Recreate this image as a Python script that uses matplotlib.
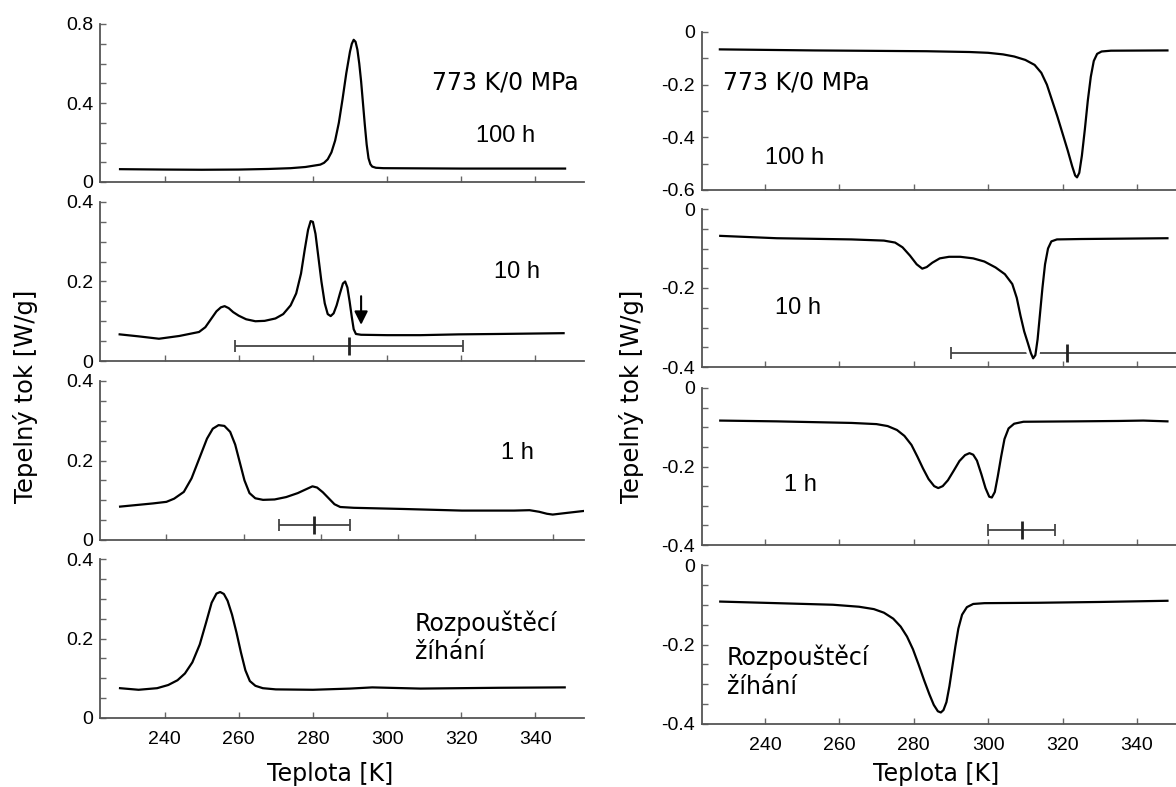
import numpy as np
import matplotlib.pyplot as plt

# ---- left column: heating runs (W/g), temperature in K ----
t_l100 = [228, 240, 250, 260, 268, 274, 278, 280, 282, 283, 284, 285, 286, 287, 288, 289, 290, 290.5, 291, 291.5, 292, 292.5, 293, 293.5, 294, 294.5, 295, 295.5, 296, 297, 299, 320, 348]
q_l100 = [0.065, 0.063, 0.062, 0.063, 0.066, 0.070, 0.076, 0.082, 0.088, 0.097, 0.115, 0.15, 0.21, 0.30, 0.42, 0.55, 0.66, 0.70, 0.72, 0.71, 0.67, 0.60, 0.51, 0.40, 0.29, 0.19, 0.12, 0.09, 0.078, 0.072, 0.07, 0.068, 0.068]

t_l10 = [227.9, 233, 238.5, 244, 249.3, 251, 252.5, 254, 255.2, 256.2, 257.3, 258.5, 260, 262, 264.5, 267, 269.9, 272, 274, 275.5, 276.8, 277.8, 278.7, 279.4, 280, 280.7, 281.5, 282.3, 283.2, 284, 284.8, 285.6, 286.4, 287.3, 288.1, 288.7, 289.3, 289.9, 290.5, 291, 291.6, 293, 300, 309, 319.3, 330, 347.6]
q_l10 = [0.067, 0.062, 0.056, 0.063, 0.073, 0.085, 0.105, 0.125, 0.135, 0.138, 0.133, 0.123, 0.114, 0.105, 0.10, 0.101, 0.107, 0.118, 0.14, 0.17, 0.22, 0.28, 0.33, 0.352, 0.35, 0.32, 0.26, 0.2, 0.145, 0.118, 0.113, 0.12, 0.14, 0.17, 0.195, 0.2, 0.185, 0.15, 0.11, 0.08, 0.068, 0.066, 0.065, 0.065, 0.067, 0.068, 0.07]

t_l1 = [228, 236.5, 240, 242, 244.5, 246.5, 248.5, 250.5, 252, 253.5, 255, 256.5, 257.8, 259, 260.2, 261.5, 263, 265, 268, 271, 274, 276, 277.8, 279, 280.5, 282, 283.5, 285, 288.5, 301.5, 316.5, 330, 334, 336.5, 338.5, 340, 343.5, 348]
q_l1 = [0.084, 0.092, 0.096, 0.104, 0.121, 0.155, 0.205, 0.255, 0.28, 0.289, 0.287, 0.272, 0.24, 0.195, 0.15, 0.118, 0.105, 0.101, 0.102, 0.108, 0.118, 0.127, 0.135, 0.132, 0.12, 0.105, 0.09, 0.083, 0.081, 0.078, 0.074, 0.074, 0.075, 0.071, 0.066, 0.064, 0.068, 0.073]

t_l0 = [228, 233, 238, 241, 243.5, 245.5, 247.5, 249.5, 251.2, 252.7, 254, 255, 256, 257, 258.2, 259.4, 260.6, 261.8, 263, 264.5, 266.5, 270, 280, 290, 296, 309, 330, 347.9]
q_l0 = [0.075, 0.071, 0.075, 0.083, 0.095, 0.112, 0.14, 0.185, 0.24, 0.29, 0.313, 0.317, 0.312, 0.295, 0.26, 0.215, 0.165, 0.12, 0.093, 0.081, 0.075, 0.072, 0.071, 0.074, 0.077, 0.074, 0.076, 0.077]

# ---- right column: cooling runs (W/g) ----
t_r100 = [227.9, 253.3, 283.4, 295, 300, 304, 307, 310, 312.5, 314.3, 315.8, 317.2, 318.6, 320, 321.4, 322.6, 323.4, 323.9, 324.5, 325.2, 326, 326.8, 327.6, 328.4, 329.3, 330.5, 333, 348.2]
q_r100 = [-0.066, -0.070, -0.073, -0.076, -0.079, -0.085, -0.093, -0.106, -0.125, -0.155, -0.2, -0.26, -0.32, -0.385, -0.45, -0.51, -0.545, -0.552, -0.535, -0.47, -0.37, -0.26, -0.17, -0.11, -0.083, -0.074, -0.071, -0.070]

t_r10 = [228, 243.2, 263.3, 272, 275, 277, 279, 280.8, 282.3, 283.5, 285, 287, 289.5, 292.5, 296, 299, 302, 304.5, 306.5, 307.7, 308.7, 309.7, 310.7, 311.5, 312.1, 312.7, 313.3, 313.9, 314.6, 315.3, 316.1, 317, 318.5, 325, 348.2]
q_r10 = [-0.068, -0.074, -0.077, -0.080, -0.085, -0.097, -0.118, -0.14, -0.151, -0.147, -0.136, -0.125, -0.121, -0.121, -0.125, -0.133, -0.148, -0.165, -0.19, -0.225, -0.27, -0.31, -0.34, -0.365, -0.378, -0.37, -0.33, -0.27, -0.2, -0.14, -0.1, -0.082, -0.077, -0.076, -0.074]

t_r1 = [228, 243.2, 263.3, 270, 273, 275.5, 277.5, 279.4, 281, 282.5, 284, 285.5, 286.6, 287.8, 289.2, 290.8, 292.3, 293.8, 295, 296, 297, 298.2, 299.3, 300.3, 301, 301.8, 302.6, 303.5, 304.4, 305.5, 307, 309.5, 323.6, 335, 341.7, 348.2]
q_r1 = [-0.083, -0.085, -0.089, -0.092, -0.097, -0.107, -0.122, -0.145, -0.175, -0.205, -0.232, -0.25, -0.255, -0.25, -0.235, -0.21, -0.186, -0.171, -0.166, -0.17, -0.185, -0.22, -0.255, -0.277, -0.279, -0.265, -0.225, -0.175, -0.13, -0.103, -0.091, -0.086, -0.085, -0.084, -0.083, -0.085]

t_r0 = [228, 243.2, 258.3, 265.3, 269.3, 272, 274.5, 276.5, 278.2, 279.8, 281.3, 282.8, 284.2, 285.4, 286.5, 287.3, 288, 288.8, 289.6, 290.4, 291.2, 292, 293, 294.3, 296, 299, 313.6, 330, 348.2]
q_r0 = [-0.092, -0.096, -0.100, -0.105, -0.111, -0.12, -0.135, -0.155, -0.18, -0.212, -0.25, -0.29, -0.325, -0.352, -0.368, -0.371, -0.365, -0.345, -0.305, -0.255, -0.205, -0.16, -0.125, -0.106, -0.098, -0.096, -0.095, -0.093, -0.090]

# error bars: (centre, half width, y)
err_l10 = (289.7, 30.8, 0.037)
err_l1 = (278.3, 9.2, 0.038)
err_r10 = (321.1, 31.2, -0.364)
err_r1 = (309.0, 9.0, -0.362)

xticks = [240, 260, 280, 300, 320, 340]

W, H = 1176, 787
fig = plt.figure(figsize=(W / 100, H / 100), dpi=100)

def add_ax(x0, x1, ytop, ybot):
    return fig.add_axes([x0 / W, 1 - ybot / H, (x1 - x0) / W, (ybot - ytop) / H])

def style(ax, xlim, ylim, major, minor, labels, bottom):
    ax.set_xlim(*xlim)
    ax.set_ylim(*ylim)
    for s in ['top', 'right']:
        ax.spines[s].set_visible(False)
    for s in ['left', 'bottom']:
        ax.spines[s].set_color('#555555')
        ax.spines[s].set_linewidth(1.3)
    ax.set_xticks(xticks)
    ax.set_yticks(major)
    ax.set_yticks(minor, minor=True)
    ax.set_yticklabels(labels)
    if bottom:
        ax.set_xticklabels([str(v) for v in xticks])
    else:
        ax.set_xticklabels([])
    ax.tick_params(which='both', direction='in', length=4, width=1, color='#666666')
    ax.tick_params(axis='x', pad=9)
    ax.tick_params(axis='y', pad=5)
    for lab in ax.get_xticklabels() + ax.get_yticklabels():
        lab.set_family('Liberation Sans')
        lab.set_fontsize(14)

def errbar(ax, e):
    c, hw, y = e
    ax.errorbar([c], [y], xerr=[hw], fmt='none', ecolor='#444444', elinewidth=1.3, capsize=4, capthick=1.3)
    ax.plot([c], [y], marker='|', ms=13, mew=2, color='#222222')

lw = 1.6
lrows = [(24, 182), (202, 361), (381, 540), (559, 718)]
rrows = [(32, 190), (209, 367), (388, 545), (565, 724)]

m8 = np.round(np.arange(0, 0.81, 0.1), 2)
m4 = np.round(np.arange(0, 0.41, 0.05), 2)
r6 = np.round(np.arange(-0.6, 0.01, 0.1), 2)
r4 = np.round(np.arange(-0.4, 0.01, 0.05), 2)

# left column
a = add_ax(100, 584, *lrows[0])
a.plot(t_l100, q_l100, color='black', lw=lw)
style(a, (222.6, 353.1), (0, 0.8), [0, 0.4, 0.8], m8, ['0', '0.4', '0.8'], False)

a = add_ax(100, 584, *lrows[1])
a.plot(t_l10, q_l10, color='black', lw=lw)
errbar(a, err_l10)
a.annotate('', xy=(293, 0.084), xytext=(293, 0.17),
           arrowprops=dict(arrowstyle='-|>', color='black', lw=1.5, mutation_scale=20))
style(a, (222.6, 353.1), (0, 0.4), [0, 0.2, 0.4], m4, ['0', '0.2', '0.4'], False)

a = add_ax(100, 584, *lrows[2])
a.plot(t_l1, q_l1, color='black', lw=lw)
errbar(a, err_l1)
style(a, (222.8, 348.1), (0, 0.4), [0, 0.2, 0.4], m4, ['0', '0.2', '0.4'], False)

a = add_ax(100, 584, *lrows[3])
a.plot(t_l0, q_l0, color='black', lw=lw)
style(a, (222.6, 353.1), (0, 0.4), [0, 0.2, 0.4], m4, ['0', '0.2', '0.4'], True)

# right column
b = add_ax(702, 1176, *rrows[0])
b.plot(t_r100, q_r100, color='black', lw=lw)
style(b, (223.1, 350.5), (-0.6, 0), [-0.6, -0.4, -0.2, 0], r6, ['-0.6', '-0.4', '-0.2', '0'], False)

b = add_ax(702, 1176, *rrows[1])
errbar(b, err_r10)
b.plot(t_r10, q_r10, color='white', lw=6)
b.plot(t_r10, q_r10, color='black', lw=lw)
style(b, (223.1, 350.5), (-0.4, 0), [-0.4, -0.2, 0], r4, ['-0.4', '-0.2', '0'], False)

b = add_ax(702, 1176, *rrows[2])
b.plot(t_r1, q_r1, color='black', lw=lw)
errbar(b, err_r1)
style(b, (223.1, 350.5), (-0.4, 0), [-0.4, -0.2, 0], r4, ['-0.4', '-0.2', '0'], False)

b = add_ax(702, 1176, *rrows[3])
b.plot(t_r0, q_r0, color='black', lw=lw)
style(b, (223.1, 350.5), (-0.4, 0), [-0.4, -0.2, 0], r4, ['-0.4', '-0.2', '0'], True)

# annotations
def ftext(px, py, s, fam, size, **kw):
    fig.text(px / W, 1 - py / H, s, family=fam, fontsize=size, va='center', **kw)

dv = 'DejaVu Sans'
ls = 'Liberation Sans'
ftext(432, 83, '773 K/0 MPa', dv, 17)
ftext(476, 136, '100 h', ls, 17)
ftext(494, 272, '10 h', ls, 17)
ftext(501, 453, '1 h', ls, 17)
ftext(415, 623, 'Rozpouštěcí', dv, 17)
ftext(415, 652, 'žíhání', dv, 17)

ftext(723, 83, '773 K/0 MPa', dv, 17)
ftext(765, 158, '100 h', ls, 17)
ftext(775, 308, '10 h', ls, 17)
ftext(784, 485, '1 h', ls, 17)
ftext(727, 657, 'Rozpouštěcí', dv, 17)
ftext(727, 687, 'žíhání', dv, 17)

ftext(330, 774, 'Teplota [K]', dv, 17, ha='center')
ftext(936, 774, 'Teplota [K]', dv, 17, ha='center')
ftext(26, 396, 'Tepelný tok [W/g]', dv, 17.5, ha='center', rotation=90)
ftext(632, 396, 'Tepelný tok [W/g]', dv, 17.5, ha='center', rotation=90)

fig.savefig('out.png', dpi=100)
